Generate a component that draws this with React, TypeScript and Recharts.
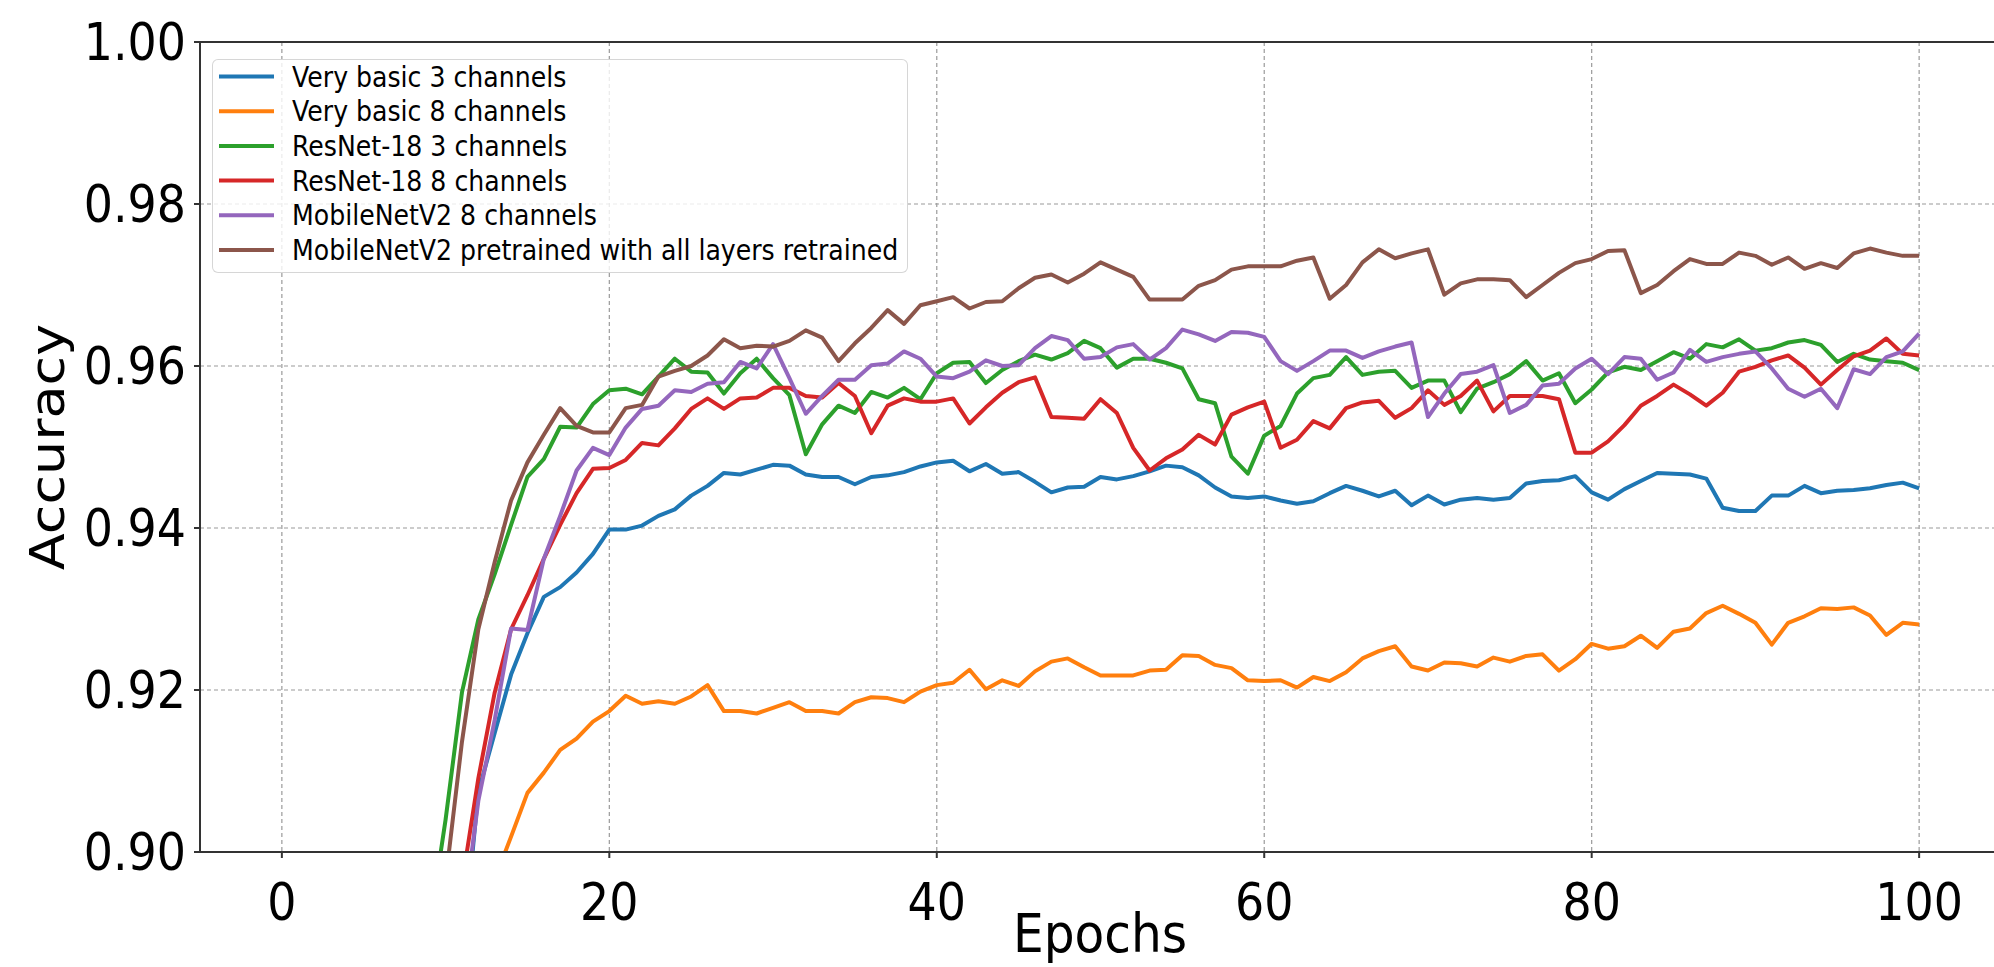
import { LineChart, Line, XAxis, YAxis, CartesianGrid, Legend, ReferenceLine, Label } from "recharts";

const FONT = "DejaVu Sans, sans-serif";
// the reference picture is slightly squeezed sideways, so text is drawn narrower
const SQUISH = 0.9;

const epochs = Array.from({ length: 101 }, (_, i) => i);
const xTicks = [0, 20, 40, 60, 80, 100];
const yTicks = [0.9, 0.92, 0.94, 0.96, 0.98, 1.0];

// each series is listed from its first epoch near the visible range
const basic3Start = 11;
const basic3 = [
  0.8863, 0.9074, 0.9147, 0.9219, 0.927, 0.9315, 0.9327, 0.9345, 0.9368, 0.9398,
  0.9398, 0.9403, 0.9415, 0.9423, 0.944, 0.9452, 0.9468, 0.9466, 0.9472, 0.9478,
  0.9477, 0.9466, 0.9463, 0.9463, 0.9454, 0.9463, 0.9465, 0.9469, 0.9476, 0.9481,
  0.9483, 0.947, 0.9479, 0.9467, 0.9469, 0.9457, 0.9444, 0.945, 0.9451, 0.9463,
  0.946, 0.9464, 0.947, 0.9477, 0.9475, 0.9465, 0.945, 0.9439, 0.9437, 0.9439,
  0.9434, 0.943, 0.9433, 0.9443, 0.9452, 0.9446, 0.9439, 0.9446, 0.9428, 0.944,
  0.9429, 0.9435, 0.9437, 0.9435, 0.9437, 0.9455, 0.9458, 0.9459, 0.9464, 0.9444,
  0.9435, 0.9448, 0.9458, 0.9468, 0.9467, 0.9466, 0.9461, 0.9425, 0.9421, 0.9421,
  0.944, 0.944, 0.9452, 0.9443, 0.9446, 0.9447, 0.9449, 0.9453, 0.9456, 0.9449,
];

const basic8Start = 13;
const basic8 = [
  0.8966, 0.9019, 0.9073, 0.9098, 0.9126, 0.914, 0.9161, 0.9174,
  0.9193, 0.9183, 0.9186, 0.9183, 0.9192, 0.9206, 0.9174, 0.9174, 0.9171, 0.9178,
  0.9185, 0.9174, 0.9174, 0.9171, 0.9185, 0.9191, 0.919, 0.9185, 0.9198, 0.9206,
  0.9209, 0.9225, 0.9201, 0.9212, 0.9205, 0.9223, 0.9235, 0.9239, 0.9228, 0.9218,
  0.9218, 0.9218, 0.9224, 0.9225, 0.9243, 0.9242, 0.9231, 0.9227, 0.9212, 0.9211,
  0.9212, 0.9203, 0.9216, 0.9211, 0.9222, 0.9239, 0.9248, 0.9254, 0.9229, 0.9224,
  0.9234, 0.9233, 0.9229, 0.924, 0.9235, 0.9242, 0.9244, 0.9224, 0.9238, 0.9257,
  0.9251, 0.9254, 0.9267, 0.9252, 0.9272, 0.9276, 0.9295, 0.9304, 0.9294, 0.9283,
  0.9256, 0.9283, 0.9291, 0.9301, 0.93, 0.9302, 0.9292, 0.9268, 0.9283, 0.9281,
];

const resnet3Start = 9;
const resnet3 = [
  0.8905, 0.904, 0.9197, 0.9287, 0.9343, 0.9404, 0.9463, 0.9485, 0.9525, 0.9524, 0.9553, 0.957,
  0.9572, 0.9565, 0.9587, 0.9609, 0.9593, 0.9592, 0.9566, 0.9591, 0.9609, 0.9585,
  0.9564, 0.9491, 0.9528, 0.9551, 0.9542, 0.9568, 0.9561, 0.9573, 0.9559, 0.9591,
  0.9604, 0.9605, 0.9579, 0.9595, 0.9606, 0.9614, 0.9608, 0.9616, 0.9631, 0.9622,
  0.9598, 0.9609, 0.9609, 0.9604, 0.9597, 0.9559, 0.9554, 0.9488, 0.9467, 0.9514,
  0.9526, 0.9566, 0.9585, 0.9589, 0.9611, 0.9589, 0.9593, 0.9594, 0.9573, 0.9582,
  0.9582, 0.9543, 0.9572, 0.958, 0.959, 0.9606, 0.9582, 0.9591, 0.9554, 0.9571,
  0.9592, 0.9599, 0.9595, 0.9606, 0.9617, 0.9609, 0.9627, 0.9623, 0.9633, 0.9619,
  0.9622, 0.9629, 0.9632, 0.9626, 0.9605, 0.9615, 0.9608, 0.9606, 0.9604, 0.9595,
];

const resnet8Start = 11;
const resnet8 = [
  0.8961, 0.9091, 0.9197, 0.9275, 0.9317, 0.9362, 0.9404, 0.9443, 0.9473, 0.9474,
  0.9484, 0.9505, 0.9502, 0.9523, 0.9547, 0.956, 0.9547, 0.956, 0.9561, 0.9573,
  0.9573, 0.9563, 0.9561, 0.9579, 0.9563, 0.9517, 0.9551, 0.956, 0.9556, 0.9556,
  0.956, 0.9529, 0.9549, 0.9567, 0.958, 0.9586, 0.9537, 0.9536, 0.9535, 0.9559,
  0.9542, 0.9499, 0.9471, 0.9486, 0.9497, 0.9515, 0.9503, 0.954, 0.9549, 0.9556,
  0.9499, 0.9509, 0.9532, 0.9523, 0.9548, 0.9555, 0.9557, 0.9536, 0.9548, 0.957,
  0.9552, 0.9563, 0.9582, 0.9544, 0.9563, 0.9563, 0.9563, 0.9559, 0.9493, 0.9493,
  0.9507, 0.9527, 0.9551, 0.9563, 0.9577, 0.9565, 0.9551, 0.9567, 0.9593, 0.9599,
  0.9607, 0.9613, 0.9598, 0.9577, 0.9595, 0.9612, 0.9619, 0.9634, 0.9615, 0.9613,
];

const mobile8Start = 11;
const mobile8 = [
  0.8906, 0.9063, 0.9163, 0.9276, 0.9274, 0.9362, 0.9415, 0.9471, 0.9499, 0.949,
  0.9524, 0.9547, 0.9551, 0.957, 0.9568, 0.9578, 0.958, 0.9605, 0.9597, 0.9627,
  0.9585, 0.9541, 0.9563, 0.9583, 0.9583, 0.9601, 0.9603, 0.9618, 0.9609, 0.9587,
  0.9585, 0.9593, 0.9607, 0.96, 0.9601, 0.9622, 0.9637, 0.9632, 0.9609, 0.9611,
  0.9623, 0.9627, 0.9608, 0.9622, 0.9645, 0.9639, 0.9631, 0.9642, 0.9641, 0.9636,
  0.9606, 0.9594, 0.9606, 0.9619, 0.9619, 0.961, 0.9618, 0.9624, 0.9629, 0.9537,
  0.9566, 0.959, 0.9593, 0.9601, 0.9542, 0.9552, 0.9576, 0.9578, 0.9597, 0.9609,
  0.959, 0.9611, 0.9609, 0.9583, 0.9592, 0.962, 0.9605, 0.9611, 0.9615, 0.9618,
  0.9597, 0.9572, 0.9562, 0.9572, 0.9548, 0.9596, 0.959, 0.9611, 0.9618, 0.964,
];

const pretrainedStart = 10;
const pretrained = [
  0.8965, 0.9136, 0.9275, 0.9358, 0.9434, 0.9481, 0.9515, 0.9548, 0.9526, 0.9518, 0.9518,
  0.9548, 0.9552, 0.9587, 0.9594, 0.96, 0.9613, 0.9633, 0.9622, 0.9625, 0.9624,
  0.9631, 0.9644, 0.9635, 0.9606, 0.9628, 0.9647, 0.9669, 0.9652, 0.9675, 0.968,
  0.9685, 0.9671, 0.9679, 0.968, 0.9696, 0.9709, 0.9713, 0.9703, 0.9714, 0.9728,
  0.9719, 0.971, 0.9682, 0.9682, 0.9682, 0.9699, 0.9706, 0.9719, 0.9723, 0.9723,
  0.9723, 0.973, 0.9734, 0.9683, 0.97, 0.9728, 0.9744, 0.9733, 0.9739, 0.9744,
  0.9688, 0.9702, 0.9707, 0.9707, 0.9706, 0.9685, 0.97, 0.9715, 0.9727, 0.9732,
  0.9742, 0.9743, 0.969, 0.97, 0.9717, 0.9732, 0.9726, 0.9726, 0.974, 0.9736,
  0.9725, 0.9734, 0.972, 0.9727, 0.9721, 0.9739, 0.9745, 0.974, 0.9736, 0.9736,
];

const series = [
  { key: "basic3", name: "Very basic 3 channels", color: "#1f77b4", start: basic3Start, values: basic3 },
  { key: "basic8", name: "Very basic 8 channels", color: "#ff7f0e", start: basic8Start, values: basic8 },
  { key: "resnet3", name: "ResNet-18 3 channels", color: "#2ca02c", start: resnet3Start, values: resnet3 },
  { key: "resnet8", name: "ResNet-18 8 channels", color: "#d62728", start: resnet8Start, values: resnet8 },
  { key: "mobile8", name: "MobileNetV2 8 channels", color: "#9467bd", start: mobile8Start, values: mobile8 },
  {
    key: "pretrained",
    name: "MobileNetV2 pretrained with all layers retrained",
    color: "#8c564b",
    start: pretrainedStart,
    values: pretrained,
  },
];

const rows = epochs.map((epoch) => {
  const row: Record<string, number | null> = { epoch };
  series.forEach((s) => {
    const i = epoch - s.start;
    row[s.key] = i >= 0 && i < s.values.length ? s.values[i] : null;
  });
  return row;
});

function YTick({ x, y, payload }: any) {
  return (
    <text
      transform={`translate(${x},${y}) scale(${SQUISH},1)`}
      textAnchor="end"
      dy="0.36em"
      fontSize={51}
      fontFamily={FONT}
      fill="#000"
    >
      {Number(payload.value).toFixed(2)}
    </text>
  );
}

function XTick({ x, y, payload }: any) {
  return (
    <text
      transform={`translate(${x},${y}) scale(${SQUISH},1)`}
      textAnchor="middle"
      y={62}
      fontSize={51}
      fontFamily={FONT}
      fill="#000"
    >
      {payload.value}
    </text>
  );
}

function LegendBox() {
  return (
    <div
      style={{
        position: "relative",
        width: 696,
        height: 214,
        boxSizing: "border-box",
        border: "1.5px solid rgba(204,204,204,0.8)",
        borderRadius: 6,
        background: "rgba(255,255,255,0.8)",
      }}
    >
      <svg width={696} height={214} style={{ position: "absolute", left: -1.5, top: -1.5 }}>
        {series.map((s, i) => {
          const cy = 17.5 + i * 34.7;
          return (
            <g key={s.key}>
              <line x1={7} x2={62} y1={cy} y2={cy} stroke={s.color} strokeWidth={4} />
              <text
                transform={`translate(80,${cy}) scale(${SQUISH},1)`}
                dy="0.36em"
                fontSize={28}
                fontFamily={FONT}
                fill="#000"
              >
                {s.name}
              </text>
            </g>
          );
        })}
      </svg>
    </div>
  );
}

export default function App() {
  return (
    <div style={{ position: "fixed", left: 0, top: 0, width: 1994, height: 967, overflow: "hidden", background: "#fff" }}>
      <LineChart
        width={2010}
        height={967}
        data={rows}
        margin={{ top: 42, right: 9, left: 0, bottom: 0 }}
        style={{ fontFamily: FONT }}
      >
        <CartesianGrid stroke="#9a9a9a" strokeWidth={1.2} strokeDasharray="4 3" />
        <XAxis
          dataKey="epoch"
          type="number"
          domain={[-5, 105]}
          ticks={xTicks}
          allowDataOverflow
          height={115}
          tick={<XTick />}
          tickSize={6}
          tickMargin={0}
          axisLine={{ stroke: "#333", strokeWidth: 2 }}
          tickLine={{ stroke: "#333", strokeWidth: 2 }}
        >
          <Label
            content={() => (
              <text
                transform={`translate(1100,952) scale(${SQUISH},1)`}
                textAnchor="middle"
                fontSize={54}
                fontFamily={FONT}
                fill="#000"
              >
                Epochs
              </text>
            )}
          />
        </XAxis>
        <YAxis
          type="number"
          domain={[0.9, 1.0]}
          ticks={yTicks}
          allowDataOverflow
          width={200}
          tick={<YTick />}
          tickSize={6}
          tickMargin={8}
          axisLine={{ stroke: "#333", strokeWidth: 2 }}
          tickLine={{ stroke: "#333", strokeWidth: 2 }}
        >
          <Label
            content={() => (
              <text
                transform={`translate(64,447) scale(${SQUISH},1) rotate(-90)`}
                textAnchor="middle"
                fontSize={54}
                fontFamily={FONT}
                fill="#000"
              >
                Accuracy
              </text>
            )}
          />
        </YAxis>
        <ReferenceLine y={1.0} stroke="#333" strokeWidth={2} />
        {series.map((s) => (
          <Line
            key={s.key}
            type="linear"
            dataKey={s.key}
            name={s.name}
            stroke={s.color}
            strokeWidth={4}
            strokeLinejoin="round"
            dot={false}
            activeDot={false}
            isAnimationActive={false}
          />
        ))}
        <Legend
          verticalAlign="middle"
          layout="horizontal"
          align="center"
          wrapperStyle={{ left: 212, top: 59, width: 696, height: 214 }}
          content={() => <LegendBox />}
        />
      </LineChart>
    </div>
  );
}
